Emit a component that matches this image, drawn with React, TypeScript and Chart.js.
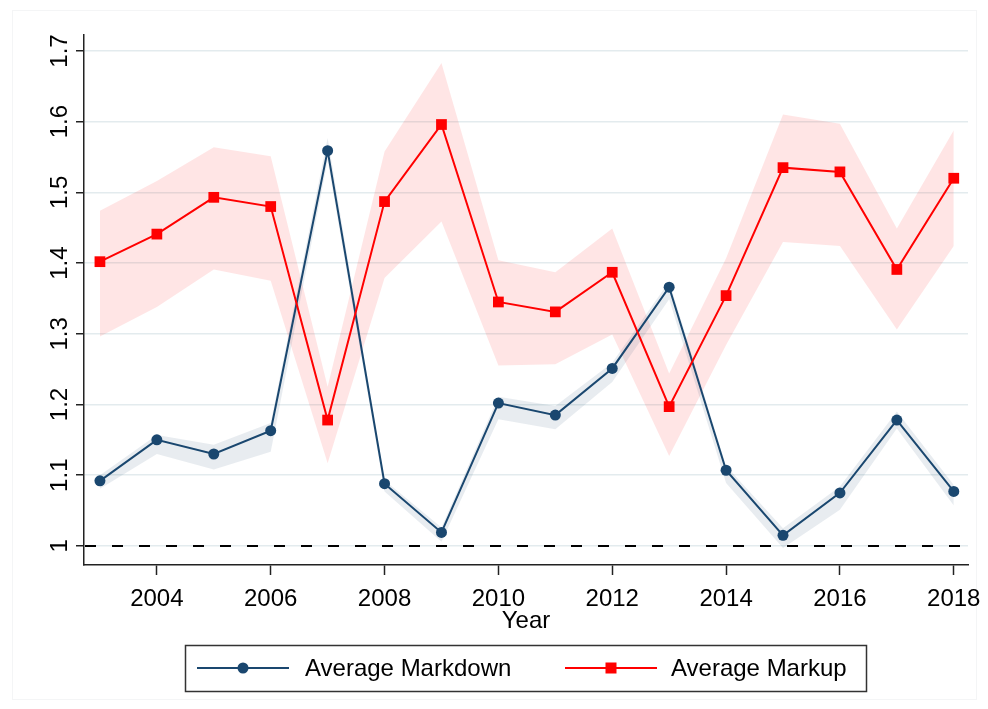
import React, { useEffect, useRef } from "react";
import { Chart, registerables } from "chart.js";

Chart.register(...registerables);

const YEARS = [2003, 2004, 2005, 2006, 2007, 2008, 2009, 2010, 2011, 2012, 2013, 2014, 2015, 2016, 2017, 2018];

const MARKDOWN = [1.092, 1.150, 1.130, 1.163, 1.559, 1.088, 1.019, 1.202, 1.185, 1.251, 1.366, 1.107, 1.015, 1.075, 1.178, 1.077];
const MARKDOWN_HI = [1.100, 1.157, 1.143, 1.174, 1.577, 1.093, 1.026, 1.211, 1.198, 1.259, 1.374, 1.113, 1.025, 1.084, 1.190, 1.086];
const MARKDOWN_LO = [1.081, 1.130, 1.108, 1.133, 1.545, 1.077, 1.006, 1.179, 1.165, 1.232, 1.349, 1.089, 0.997, 1.051, 1.166, 1.057];

const MARKUP = [1.402, 1.441, 1.493, 1.480, 1.178, 1.487, 1.596, 1.345, 1.331, 1.387, 1.197, 1.354, 1.535, 1.529, 1.391, 1.520];
const MARKUP_HI = [1.474, 1.516, 1.564, 1.551, 1.225, 1.558, 1.683, 1.404, 1.387, 1.449, 1.244, 1.407, 1.610, 1.597, 1.449, 1.588];
const MARKUP_LO = [1.296, 1.338, 1.391, 1.375, 1.117, 1.379, 1.459, 1.255, 1.257, 1.299, 1.127, 1.284, 1.430, 1.424, 1.306, 1.424];

const X_TICKS = [2004, 2006, 2008, 2010, 2012, 2014, 2016, 2018];
const Y_TICKS = [1, 1.1, 1.2, 1.3, 1.4, 1.5, 1.6, 1.7];
const Y_TICK_LABELS = ["1", "1.1", "1.2", "1.3", "1.4", "1.5", "1.6", "1.7"];
const REF_LINE = 1;

const X_MIN = 2002.72;
const X_MAX = 2018.25;
const Y_MIN = 0.973;
const Y_MAX = 1.7226;

const BLUE = "#1a476f";
const RED = "#ff0000";
const FONT = '"Liberation Sans", Arial, sans-serif';

const pts = (ys: number[]) => YEARS.map((x, i) => ({ x, y: ys[i] }));

const noScalePadding = (s: any) => {
  s.paddingLeft = 0;
  s.paddingRight = 0;
  s.paddingTop = 0;
  s.paddingBottom = 0;
};

const refLinePlugin = {
  id: "refLine",
  beforeDatasetsDraw(chart: any) {
    const { ctx, chartArea, scales } = chart;
    const py = scales.y.getPixelForValue(REF_LINE);
    ctx.save();
    ctx.strokeStyle = "#000";
    ctx.lineWidth = 2;
    ctx.setLineDash([11, 16]);
    ctx.beginPath();
    ctx.moveTo(chartArea.left + 1, py);
    ctx.lineTo(chartArea.right, py);
    ctx.stroke();
    ctx.restore();
  },
};

const yLabelsPlugin = {
  id: "yLabels",
  afterDraw(chart: any) {
    const { ctx, scales } = chart;
    const ys = scales.y;
    ctx.save();
    ctx.font = `24px ${FONT}`;
    ctx.fillStyle = "#000";
    ctx.textAlign = "center";
    ctx.textBaseline = "alphabetic";
    Y_TICKS.forEach((v, i) => {
      const py = ys.getPixelForValue(v);
      ctx.save();
      ctx.translate(ys.right - 17, py);
      ctx.rotate(-Math.PI / 2);
      ctx.fillText(Y_TICK_LABELS[i], 0, 0);
      ctx.restore();
    });
    ctx.restore();
  },
};

const legendPlugin = {
  id: "boxLegend",
  afterDraw(chart: any) {
    const { ctx } = chart;
    const ds = chart.data.datasets;
    ctx.save();
    ctx.strokeStyle = "#333";
    ctx.lineWidth = 1.5;
    ctx.strokeRect(185.5, 645.5, 681, 46);
    const cy = 668;
    // Markdown
    ctx.strokeStyle = BLUE;
    ctx.lineWidth = 2;
    ctx.beginPath();
    ctx.moveTo(197, cy);
    ctx.lineTo(289, cy);
    ctx.stroke();
    ctx.fillStyle = BLUE;
    ctx.beginPath();
    ctx.arc(243, cy, 5.5, 0, Math.PI * 2);
    ctx.fill();
    // Markup
    ctx.strokeStyle = RED;
    ctx.beginPath();
    ctx.moveTo(565, cy);
    ctx.lineTo(657, cy);
    ctx.stroke();
    ctx.fillStyle = RED;
    ctx.fillRect(611 - 5.5, cy - 5.5, 11, 11);
    ctx.fillStyle = "#000";
    ctx.font = `24px ${FONT}`;
    ctx.textAlign = "left";
    ctx.textBaseline = "middle";
    ctx.fillText(ds[1].label, 305, cy + 1);
    ctx.fillText(ds[0].label, 671, cy + 1);
    ctx.restore();
  },
};

export default function App() {
  const ref = useRef<HTMLCanvasElement>(null);

  useEffect(() => {
    if (!ref.current) return;
    const chart = new Chart(ref.current, {
      type: "line",
      data: {
        datasets: [
          {
            label: "Average Markup",
            data: pts(MARKUP),
            borderColor: RED,
            backgroundColor: RED,
            borderWidth: 2,
            pointStyle: "rect",
            pointRadius: 7.6,
            pointBorderWidth: 0,
            fill: false,
            order: 0,
          },
          {
            label: "Average Markdown",
            data: pts(MARKDOWN),
            borderColor: BLUE,
            backgroundColor: BLUE,
            borderWidth: 2,
            pointStyle: "circle",
            pointRadius: 5.5,
            pointBorderWidth: 0,
            fill: false,
            order: 1,
          },
          {
            label: "md_lo",
            data: pts(MARKDOWN_LO),
            borderColor: "rgba(0,0,0,0)",
            borderWidth: 0,
            pointRadius: 0,
            fill: false,
            order: 2,
          },
          {
            label: "md_hi",
            data: pts(MARKDOWN_HI),
            borderColor: "rgba(0,0,0,0)",
            backgroundColor: "rgba(26,71,111,0.1)",
            borderWidth: 0,
            pointRadius: 0,
            fill: "-1",
            order: 3,
          },
          {
            label: "mu_lo",
            data: pts(MARKUP_LO),
            borderColor: "rgba(0,0,0,0)",
            borderWidth: 0,
            pointRadius: 0,
            fill: false,
            order: 4,
          },
          {
            label: "mu_hi",
            data: pts(MARKUP_HI),
            borderColor: "rgba(0,0,0,0)",
            backgroundColor: "rgba(255,0,0,0.1)",
            borderWidth: 0,
            pointRadius: 0,
            fill: "-1",
            order: 5,
          },
        ],
      },
      options: {
        animation: false,
        responsive: false,
        devicePixelRatio: 1,
        layout: { padding: { left: 0, top: 35, right: 20, bottom: 69 } },
        plugins: {
          legend: { display: false },
          tooltip: { enabled: false },
        },
        elements: { line: { tension: 0 } },
        scales: {
          x: {
            type: "linear",
            min: X_MIN,
            max: X_MAX,
            afterBuildTicks: (s: any) => {
              s.ticks = X_TICKS.map((v) => ({ value: v }));
            },
            afterFit: (s: any) => {
              s.height = 75;
              noScalePadding(s);
            },
            ticks: {
              callback: (v: any) => String(v),
              color: "#000",
              font: { family: FONT, size: 24 },
              padding: 10,
              maxRotation: 0,
              minRotation: 0,
            },
            grid: {
              drawOnChartArea: false,
              drawTicks: true,
              tickLength: 10,
              tickColor: "#222",
              tickWidth: 1.5,
              color: "rgba(0,0,0,0)",
            },
            border: { display: true, color: "#222", width: 1.5 },
            title: {
              display: true,
              text: "Year",
              color: "#000",
              font: { family: FONT, size: 24 },
              padding: { top: 0, bottom: 4 },
            },
          },
          y: {
            type: "linear",
            min: Y_MIN,
            max: Y_MAX,
            afterBuildTicks: (s: any) => {
              s.ticks = Y_TICKS.map((v) => ({ value: v }));
            },
            afterFit: (s: any) => {
              s.width = 84;
              noScalePadding(s);
            },
            ticks: { display: false },
            grid: {
              color: "#e3ebee",
              lineWidth: 1.5,
              drawTicks: true,
              tickLength: 8,
              tickColor: "#222",
              tickWidth: 1.5,
            },
            border: { display: true, color: "#222", width: 1.5 },
          },
        },
      },
      plugins: [refLinePlugin, yLabelsPlugin, legendPlugin],
    } as any);
    return () => chart.destroy();
  }, []);

  return (
    <div style={{ position: "fixed", left: 0, top: 0, width: 988, height: 709, background: "#fff" }}>
      <div
        style={{
          position: "absolute",
          left: 12,
          top: 10,
          width: 963,
          height: 688,
          border: "1px solid #f4f5f6",
          pointerEvents: "none",
        }}
      />
      <canvas ref={ref} width={988} height={709} style={{ position: "absolute", left: 0, top: 0 }} />
    </div>
  );
}
